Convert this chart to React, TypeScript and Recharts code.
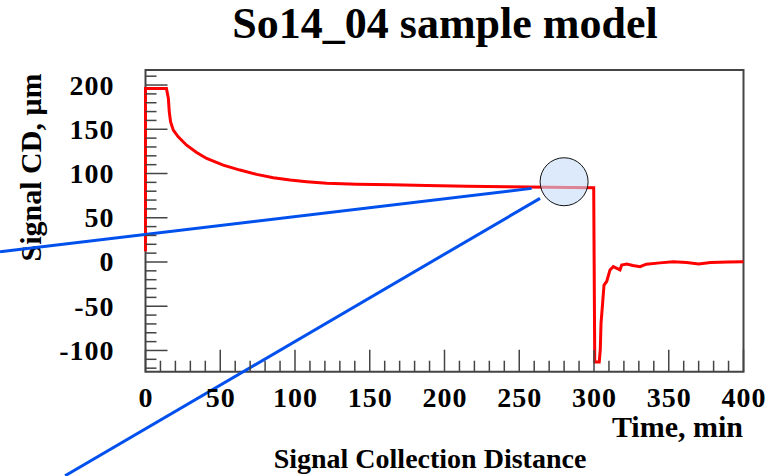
import { LineChart, Line, XAxis, YAxis, ReferenceArea, ReferenceLine, ReferenceDot } from 'recharts';

// time axis, minutes
const timeMin = [
  0, 0, 14, 15.3, 15.9, 16.8, 18.6, 21.9, 27.5, 34.2, 40.9, 52, 63.2, 74.4, 85.5, 96.7, 107.8, 121.2, 141.3, 165, 188,
  215, 241.6, 270, 299.8, 300.5, 303.5, 304.2, 304.7, 305.8, 306.7, 308.5, 310.7, 312.9, 315, 317.4, 318.5, 321.9, 326,
  330.8, 335, 344, 353, 362, 370, 378, 390, 400,
];

// signal CD, µm
const signalCD = [
  12, 196, 196, 184.8, 169.7, 158.4, 149, 141.5, 132, 123.8, 117, 109.5, 103.9, 99, 95.2, 92.6, 90.7, 88.9, 88, 87.2,
  86.5, 85.6, 85, 84.5, 84, -113, -113, -99, -69, -46, -26, -22, -9, -5.3, -7, -9, -3.4, -2.3, -4, -5.3, -2.5, -1, 0.3,
  -0.5, -2.3, -0.5, 0, 0.3,
];

const xTicks = [
  0, 10, 20, 30, 40, 50, 60, 70, 80, 90, 100, 110, 120, 130, 140, 150, 160, 170, 180, 190, 200, 210, 220, 230, 240, 250,
  260, 270, 280, 290, 300, 310, 320, 330, 340, 350, 360, 370, 380, 390, 400,
];
const yTicks = [
  -120, -110, -100, -90, -80, -70, -60, -50, -40, -30, -20, -10, 0, 10, 20, 30, 40, 50, 60, 70, 80, 90, 100, 110, 120,
  130, 140, 150, 160, 170, 180, 190, 200, 210,
];

// magnifier callout (data coordinates)
const lensCenter = { t: 280, v: 90.7 };
const calloutUpper = [
  { x: 258.3, y: 83.2 },
  { x: -97.3, y: 11.6 },
];
const calloutLower = [
  { x: 263.9, y: 71.9 },
  { x: -53.8, y: -241.6 },
];

const data = timeMin.map((t, i) => ({ t, v: signalCD[i] }));

const FONT = "'Liberation Serif', 'Times New Roman', serif";

const XTick = ({ x, y, payload }: any) => {
  const major = payload.value % 50 === 0;
  return (
    <g>
      <line x1={x} x2={x} y1={y} y2={y - (major ? 22 : 11)} stroke="#444" strokeWidth={1.5} />
      {major && (
        <text
          x={x + 0.5}
          y={y + 35}
          textAnchor="middle"
          fontFamily={FONT}
          fontWeight="bold"
          fontSize={28}
          letterSpacing={1}
          fill="#000"
        >
          {payload.value}
        </text>
      )}
    </g>
  );
};

const YTick = ({ x, y, payload }: any) => {
  const major = payload.value % 50 === 0;
  return (
    <g>
      <line x1={x} x2={x + (major ? 22 : 11)} y1={y} y2={y} stroke="#444" strokeWidth={1.5} />
      {major && (
        <text
          x={x - 31}
          y={y + 9.5}
          textAnchor="end"
          fontFamily={FONT}
          fontWeight="bold"
          fontSize={28}
          letterSpacing={1}
          fill="#000"
        >
          {payload.value}
        </text>
      )}
    </g>
  );
};

export default function App() {
  return (
    <div style={{ position: 'fixed', left: 0, top: 0, width: 784, height: 476, background: '#fff' }}>
      <LineChart width={784} height={476} data={data} margin={{ top: 70, right: 40.5, left: 85.5, bottom: 74.3 }}>
        <XAxis
          dataKey="t"
          type="number"
          domain={[0, 400]}
          ticks={xTicks}
          interval={0}
          height={30}
          axisLine={false}
          tickLine={false}
          tickSize={0}
          tickMargin={0}
          tick={<XTick />}
        />
        <YAxis
          type="number"
          domain={[-124, 217]}
          ticks={yTicks}
          interval={0}
          width={60}
          axisLine={false}
          tickLine={false}
          tickSize={0}
          tickMargin={0}
          tick={<YTick />}
        />
        <ReferenceArea x1={0} x2={400} y1={-124} y2={217} fill="none" stroke="#444" strokeWidth={2} ifOverflow="visible" />
        <Line
          dataKey="v"
          type="linear"
          stroke="#ff0000"
          strokeWidth={3}
          dot={false}
          activeDot={false}
          isAnimationActive={false}
        />
        <ReferenceLine segment={calloutUpper} stroke="#0050ee" strokeWidth={3} ifOverflow="visible" />
        <ReferenceLine segment={calloutLower} stroke="#0050ee" strokeWidth={3} ifOverflow="visible" />
        <ReferenceDot
          x={lensCenter.t}
          y={lensCenter.v}
          r={24}
          fill="#c4dcf8"
          fillOpacity={0.6}
          stroke="#111"
          strokeWidth={1}
          ifOverflow="visible"
        />
        <text x={445} y={38} textAnchor="middle" fontFamily={FONT} fontWeight="bold" fontSize={44} fill="#000">
          So14_04 sample model
        </text>
        <text
          x={41}
          y={167.5}
          transform="rotate(-90 41 167.5)"
          textAnchor="middle"
          fontFamily={FONT}
          fontWeight="bold"
          fontSize={30}
          fill="#000"
        >
          Signal CD, μm
        </text>
        <text x={743} y={437} textAnchor="end" fontFamily={FONT} fontWeight="bold" fontSize={30} fill="#000">
          Time, min
        </text>
        <text x={430} y={468} textAnchor="middle" fontFamily={FONT} fontWeight="bold" fontSize={28} fill="#000">
          Signal Collection Distance
        </text>
      </LineChart>
    </div>
  );
}
